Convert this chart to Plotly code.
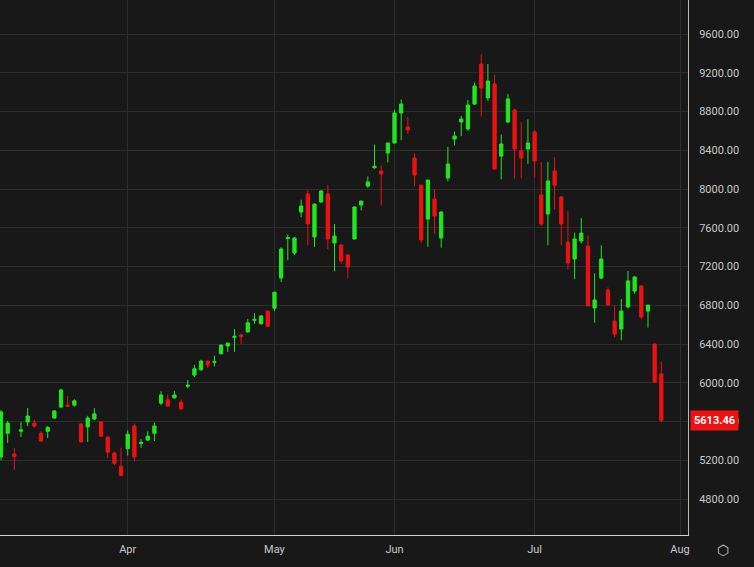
import plotly.graph_objects as go

# daily OHLC (mid-March to end of July)
opens = [5235, 5480, 5266, 5500, 5596, 5585, 5480, 5500, 5637, 5750,
         5770, 5770, 5575, 5545, 5627, 5596, 5440, 5275, 5140, 5320,
         5555, 5375, 5410, 5480, 5790, 5825, 5845, 5800, 5965, 6080,
         6135, 6225, 6212, 6300, 6380, 6470, 6495, 6525, 6645, 6610,
         6740, 6770, 7082, 7490, 7340, 7763, 7950, 7505, 7866, 7950,
         7443, 7422, 7320, 7485, 7835, 8031, 8220, 8186, 8372, 8475,
         8785, 8640, 8320, 8040, 7690, 7897, 7495, 8114, 8516, 8692,
         8620, 8877, 9290, 8940, 9084, 8340, 8692, 8815, 8393, 8413,
         8589, 7940, 7743, 8186, 7918, 7453, 7278, 7464, 7412, 6773,
         7082, 6958, 6638, 6555, 6783, 6948, 7000, 6741, 6400, 6091]
highs = [5720, 5606, 5327, 5595, 5740, 5620, 5500, 5555, 5720, 5940,
         5865, 5830, 5580, 5660, 5740, 5600, 5450, 5290, 5330, 5510,
         5580, 5420, 5500, 5590, 5915, 5880, 5915, 5830, 6030, 6185,
         6240, 6230, 6280, 6395, 6415, 6555, 6510, 6660, 6720, 6700,
         6750, 6940, 7400, 7530, 7500, 7890, 7990, 7850, 7990, 8040,
         7640, 7430, 7330, 7820, 7880, 8130, 8460, 8250, 8480, 8820,
         8925, 8745, 8370, 8045, 8095, 7995, 7770, 8435, 8595, 8755,
         8920, 9100, 9390, 9290, 9180, 8565, 8980, 8830, 8690, 8720,
         8610, 8280, 8280, 8330, 7930, 7770, 7550, 7700, 7520, 7130,
         7420, 6985, 6800, 6865, 7155, 7100, 7010, 6800, 6410, 6220]
lows = [5200, 5379, 5100, 5440, 5555, 5535, 5390, 5430, 5630, 5740,
        5750, 5755, 5385, 5390, 5615, 5445, 5225, 5150, 5040, 5250,
        5190, 5330, 5400, 5400, 5770, 5755, 5840, 5725, 5945, 6060,
        6125, 6150, 6170, 6295, 6320, 6320, 6400, 6520, 6610, 6600,
        6580, 6740, 7040, 7265, 7320, 7710, 7420, 7400, 7860, 7380,
        7150, 7230, 7080, 7480, 7780, 8010, 8210, 7830, 8275, 8470,
        8505, 8570, 8030, 7445, 7405, 7540, 7395, 8080, 8450, 8545,
        8600, 8870, 8750, 8910, 8200, 8100, 8680, 8110, 8110, 8260,
        8120, 7620, 7420, 7790, 7420, 7170, 7070, 7440, 6790, 6620,
        7070, 6880, 6470, 6440, 6770, 6920, 6660, 6570, 6000, 5596]
closes = [5700, 5585, 5240, 5515, 5658, 5555, 5400, 5540, 5710, 5926,
          5760, 5815, 5390, 5637, 5680, 5450, 5285, 5170, 5045, 5470,
          5235, 5385, 5450, 5555, 5875, 5760, 5875, 5730, 5975, 6145,
          6225, 6185, 6218, 6390, 6410, 6480, 6475, 6620, 6655, 6690,
          6585, 6935, 7381, 7500, 7495, 7825, 7640, 7845, 7980, 7485,
          7515, 7257, 7195, 7815, 7876, 8073, 8235, 8155, 8475, 8785,
          8877, 8610, 8145, 7475, 8093, 7722, 7763, 8258, 8547, 8723,
          8867, 9063, 9043, 9115, 8207, 8465, 8930, 8413, 8320, 8475,
          8290, 7640, 8083, 8040, 7640, 7237, 7485, 7546, 6793, 6855,
          7278, 6803, 6504, 6741, 7052, 7092, 6680, 6803, 6009, 5613.46]

month_labels = ["Apr", "May", "Jun", "Jul", "Aug"]
month_start = [19, 41, 59, 80, 101.8]   # candle index where each month begins
price_ticks = list(range(4800, 9601, 400))

GREEN = "#1ee81e"
RED = "#ee1111"
BG = "#181818"
GRID = "#2c2c2c"

x = list(range(len(opens)))

fig = go.Figure()
fig.add_trace(go.Candlestick(
    x=x, open=opens, high=highs, low=lows, close=closes,
    increasing=dict(line=dict(color=GREEN, width=1), fillcolor=GREEN),
    decreasing=dict(line=dict(color=RED, width=1), fillcolor=RED),
    whiskerwidth=0, showlegend=False, hoverinfo="skip",
))

# last price tag on the price axis (covers the 5600 label like the original)
fig.add_annotation(
    xref="paper", x=1, yref="y", y=closes[-1], xanchor="left",
    text=f"<b>{closes[-1]:.2f}</b>", showarrow=False, xshift=2,
    bgcolor=RED, font=dict(color="white", size=11, family="Roboto"),
    borderpad=3,
)
fig.add_annotation(
    xref="paper", x=1, yref="paper", y=0, xanchor="left", yanchor="middle",
    text="⬡", showarrow=False, xshift=27, yshift=-15,
    font=dict(color="#cccccc", size=14),
)

fig.update_layout(
    width=754, height=567,
    margin=dict(l=0, r=66, t=0, b=32),
    paper_bgcolor=BG, plot_bgcolor=BG,
    font=dict(family="Roboto", color="#c8c8c8", size=11),
    xaxis=dict(
        range=[-0.15, 103], rangeslider=dict(visible=False),
        tickvals=month_start, ticktext=month_labels, automargin=False,
        showgrid=True, gridcolor=GRID, zeroline=False,
        showline=True, linecolor="#d0d0d0", linewidth=1,
        ticks="", tickfont=dict(size=11), ticklabelstandoff=4,
    ),
    yaxis=dict(
        range=[4430, 9951], side="right", automargin=False,
        tickvals=price_ticks, tickformat=".2f",
        showgrid=True, gridcolor=GRID, zeroline=False,
        showline=True, linecolor="#bbbbbb", linewidth=1,
        ticks="", ticklabelstandoff=8,
    ),
)

fig.write_html("out.html", config={"displayModeBar": False},
               post_script="document.body.style.margin='0';")
